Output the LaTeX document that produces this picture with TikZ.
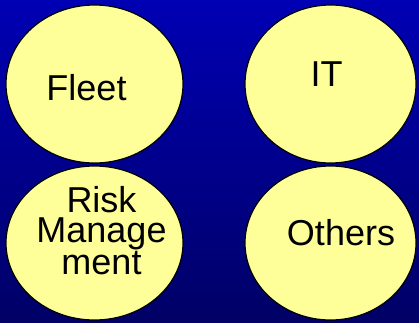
\documentclass[tikz,border=0pt]{standalone}
\usepackage{fontspec}
\setmainfont{Liberation Sans}
\usepackage{tikz}
\usetikzlibrary{calc,positioning,shapes.geometric}
\definecolor{bgtop}{RGB}{0,0,180}
\definecolor{bgbot}{RGB}{0,0,102}
\definecolor{bubblefill}{RGB}{255,255,153}
\tikzset{%
	bubble/.style = {draw=black, line width=1.2pt, fill=bubblefill, ellipse, inner sep=0pt}, % Circle
	lbl/.style    = {inner sep=0pt, align=center, font=\fontsize{36}{30.5}\selectfont}, % Text
}

\begin{document}
\begin{tikzpicture}[x=1pt,y=1pt]
	% background
	\shade[top color=bgtop,bottom color=bgbot] (0,0) rectangle (419,-322);
	\useasboundingbox (0,0) rectangle (419,-322);
	
	\node [bubble,minimum width=177pt,minimum height=158pt] (fleet) at (94.5,-84) {};
	\node [bubble,minimum width=171pt,minimum height=158pt] (it) at (330.5,-84) {};
	\node [bubble,minimum width=177pt,minimum height=154pt] (risk) at (94.5,-243) {};
	\node [bubble,minimum width=171pt,minimum height=154pt] (others) at (330.5,-243) {};
	
	\node [lbl,anchor=base] (fleettxt) at ($(fleet)+(-8,-16)$) {Fleet};
	\node [lbl,anchor=base] (ittxt) at ($(it)+(-4,-2)$) {IT};
	\node [lbl] (risktxt) at ($(risk)+(7,12.5)$) {Risk\\Manage\\ment};
	\node [lbl,anchor=base] (otherstxt) at ($(others)+(10.5,-2)$) {Others};
\end{tikzpicture}
\end{document}
